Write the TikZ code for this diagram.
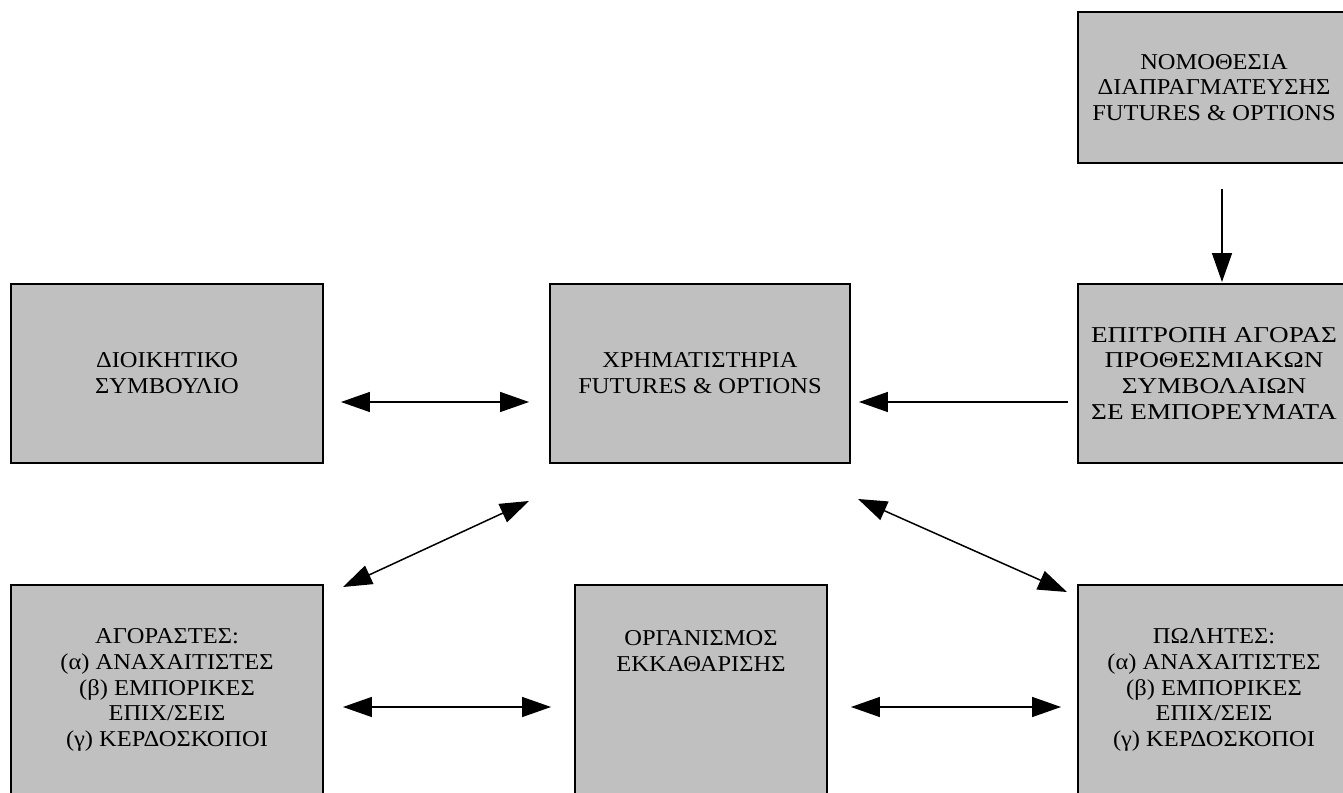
\documentclass[tikz,border=0pt]{standalone}
\usepackage{fontspec}
\setmainfont{Liberation Serif}[FakeStretch=1.08]
\newfontfamily\wideserif{Liberation Serif}[FakeStretch=1.2]
\usetikzlibrary{arrows.meta}
\definecolor{boxgray}{RGB}{192,192,192}

\begin{document}
\begin{tikzpicture}
  [x=0.02cm,y=-0.02cm,
   box/.style={draw,line width=0.04cm,fill=boxgray,align=center,inner sep=0pt,
     font=\fontsize{12.9}{14.7}\selectfont},
   link/.style={line width=0.03cm},
   tip/.style={-{Triangle[length=0.58cm,width=0.4cm]}},
   both/.style={{Triangle[length=0.58cm,width=0.4cm]}-{Triangle[length=0.58cm,width=0.4cm]}}]
  \useasboundingbox (0,0) rectangle (1343,793);
  \clip (0,0) rectangle (1343,793);

  \node[box,minimum width=5.44cm,minimum height=3.02cm] (nomo) at (1214,87.5)
    {ΝΟΜΟΘΕΣΙΑ\\ΔΙΑΠΡΑΓΜΑΤΕΥΣΗΣ\\FUTURES \& OPTIONS};
  \node[box,minimum width=6.24cm,minimum height=3.58cm] (dioik) at (167,373.5)
    {ΔΙΟΙΚΗΤΙΚΟ\\ΣΥΜΒΟΥΛΙΟ};
  \node[box,minimum width=6cm,minimum height=3.58cm] (xrim) at (700,373.5)
    {ΧΡΗΜΑΤΙΣΤΗΡΙΑ\\FUTURES \& OPTIONS};
  \node[box,minimum width=5.44cm,minimum height=3.58cm,
    font=\fontsize{12.9}{14.7}\wideserif] (epit) at (1214,373.5)
    {ΕΠΙΤΡΟΠΗ ΑΓΟΡΑΣ\\ΠΡΟΘΕΣΜΙΑΚΩΝ\\ΣΥΜΒΟΛΑΙΩΝ\\ΣΕ ΕΜΠΟΡΕΥΜΑΤΑ};
  \node[box,minimum width=6.24cm,minimum height=4.2cm] (agor) at (167,690)
    {ΑΓΟΡΑΣΤΕΣ:\\(α) ΑΝΑΧΑΙΤΙΣΤΕΣ\\(β) ΕΜΠΟΡΙΚΕΣ\\ΕΠΙΧ/ΣΕΙΣ\\(γ) ΚΕΡΔΟΣΚΟΠΟΙ};
  \node[box,minimum width=5.04cm,minimum height=4.2cm] (org) at (701,690)
    {ΟΡΓΑΝΙΣΜΟΣ\\ΕΚΚΑΘΑΡΙΣΗΣ\\ \\ \\ };
  \node[box,minimum width=5.44cm,minimum height=4.2cm] (pol) at (1214,690)
    {ΠΩΛΗΤΕΣ:\\(α) ΑΝΑΧΑΙΤΙΣΤΕΣ\\(β) ΕΜΠΟΡΙΚΕΣ\\ΕΠΙΧ/ΣΕΙΣ\\(γ) ΚΕΡΔΟΣΚΟΠΟΙ};

  \coordinate (rowA) at (0,402);
  \coordinate (rowB) at (0,707);
  \coordinate (colR) at (1222,0);

  \draw[link,both,shorten <=0.34cm,shorten >=0.4cm] (dioik.east |- rowA) -- (xrim.west |- rowA);
  \draw[link,tip,shorten <=0.18cm,shorten >=0.16cm] (epit.west |- rowA) -- (xrim.east |- rowA);
  \draw[link,tip,shorten <=0.5cm,shorten >=0.02cm] (colR |- nomo.south) -- (colR |- epit.north);
  \draw[link,both] ([shift={(-20,37)}]xrim.south west) -- ([shift={(19,3)}]agor.north east);
  \draw[link,both] ([shift={(7,35)}]xrim.south east) -- ([shift={(-10,8)}]pol.north west);
  \draw[link,both,shorten <=0.38cm,shorten >=0.46cm] (agor.east |- rowB) -- (org.west |- rowB);
  \draw[link,both,shorten <=0.46cm,shorten >=0.32cm] (org.east |- rowB) -- (pol.west |- rowB);

\end{tikzpicture}
\end{document}
